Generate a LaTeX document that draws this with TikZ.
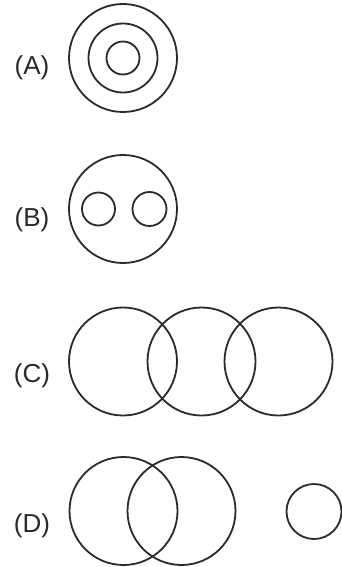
\documentclass[tikz,border=0pt]{standalone}
\usepackage{fontspec}
\setmainfont{Liberation Sans}
\usetikzlibrary{positioning}
\definecolor{ink}{HTML}{2A2A2A}

\begin{document}
\begin{tikzpicture}[
  x=1pt,y=-1pt,
  ring/.style={circle,draw=ink,line width=1.8pt,inner sep=0pt,minimum size=#1},
  ring/.default=108pt,
  tag/.style={text=ink,font=\fontsize{26}{30}\selectfont,inner sep=0pt}
]
\useasboundingbox (0,0) rectangle (342,567);
% (A) three nested circles
\node[tag] (labA) at (32,68) {(A)};
\node[ring] (aOut) at (123,58) {};
\node[ring=69pt] (aMid) at (123,58) {};
\node[ring=33pt] (aIn) at (123,58) {};
% (B) two small circles inside a big one
\node[tag] (labB) at (32,220) {(B)};
\node[ring] (bOut) at (123,209) {};
\node[ring=33pt] (bLeft) at (98.5,209) {};
\node[ring=34pt] (bRight) at (149.5,209) {};
% (C) chain of three overlapping circles
\node[tag] (labC) at (32,376) {(C)};
\node[ring] (cOne) at (123,361.5) {};
\node[ring] (cTwo) at (201.5,361.5) {};
\node[ring] (cThree) at (278.5,361.5) {};
% (D) two overlapping circles and a separate one
\node[tag] (labD) at (32,526) {(D)};
\node[ring] (dOne) at (123.5,511) {};
\node[ring] (dTwo) at (181.5,511) {};
\node[ring=55pt] (dSolo) at (314,511.5) {};
\end{tikzpicture}
\end{document}
